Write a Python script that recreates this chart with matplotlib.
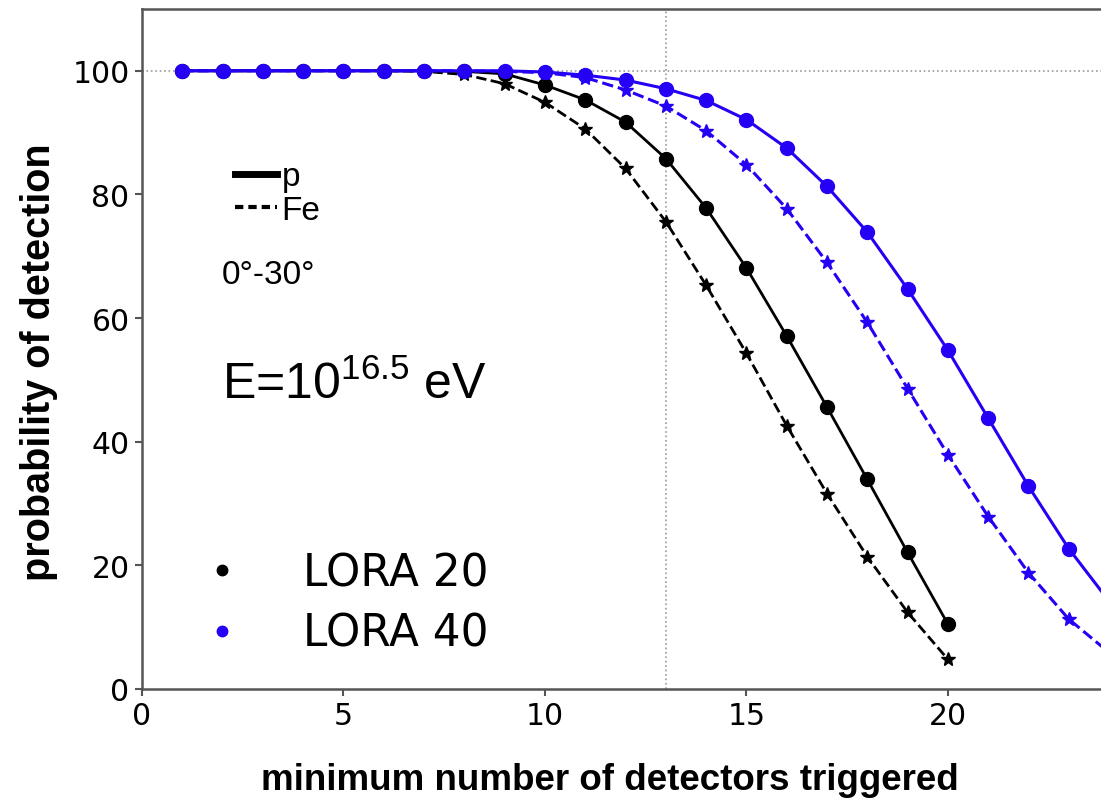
import matplotlib
matplotlib.use("Agg")
import matplotlib.pyplot as plt
from matplotlib.lines import Line2D

# ---- data ----
n_lora20 = [1, 2, 3, 4, 5, 6, 7, 8, 9, 10, 11, 12, 13, 14, 15, 16, 17, 18, 19, 20]
lora20_p = [100, 100, 100, 100, 100, 100, 100, 99.9, 99.5, 97.7, 95.3, 91.7, 85.8, 77.8,
            68.1, 57.1, 45.6, 33.9, 22.1, 10.5]
lora20_fe = [100, 100, 100, 100, 100, 100, 99.9, 99.4, 97.9, 94.9, 90.6, 84.2, 75.6, 65.3,
             54.3, 42.6, 31.6, 21.4, 12.4, 4.8]

n_lora40 = [1, 2, 3, 4, 5, 6, 7, 8, 9, 10, 11, 12, 13, 14, 15, 16, 17, 18, 19, 20, 21, 22, 23, 24]
lora40_p = [100, 100, 100, 100, 100, 100, 100, 100, 100, 99.8, 99.3, 98.5, 97.1, 95.2,
            92.1, 87.5, 81.3, 73.9, 64.7, 54.8, 43.8, 32.8, 22.7, 14.2]
lora40_fe = [100, 100, 100, 100, 100, 100, 100, 100, 99.9, 99.7, 98.9, 96.9, 94.3, 90.3,
             84.8, 77.7, 69.0, 59.3, 48.6, 37.9, 27.9, 18.8, 11.3, 5.9]

xticks = [0, 5, 10, 15, 20]
yticks = [0, 20, 40, 60, 80, 100]

BLUE = "#2400f5"
ARIAL = "Liberation Sans"

plt.rcParams["mathtext.fontset"] = "custom"
plt.rcParams["mathtext.rm"] = ARIAL
plt.rcParams["mathtext.it"] = ARIAL + ":italic"

fig = plt.figure(figsize=(11.01, 8.04), dpi=100)
ax = fig.add_axes([0.129, 0.1418, 0.871, 0.8458])

ax.axvline(13, color="#999999", lw=1.2, ls=":", zorder=1)
ax.axhline(100, color="#999999", lw=1.2, ls=":", zorder=1)

ax.plot(n_lora20, lora20_fe, color="black", ls="--", lw=2, marker="*", ms=10, zorder=3)
ax.plot(n_lora20, lora20_p, color="black", ls="-", lw=2, marker="o", ms=10, zorder=4)
ax.plot(n_lora40, lora40_fe, color=BLUE, ls="--", lw=2.2, marker="*", ms=10, zorder=5)
ax.plot(n_lora40, lora40_p, color=BLUE, ls="-", lw=2.2, marker="o", ms=10, zorder=6)

ax.set_xlim(0, 23.8)
ax.set_ylim(0, 110)
ax.set_xticks(xticks)
ax.set_yticks(yticks)
ax.tick_params(labelsize=21.5, width=1.5, length=5, color="#555555", pad=4)
ax.spines["right"].set_visible(False)
for s in ["left", "bottom", "top"]:
    ax.spines[s].set_color("#555555")
    ax.spines[s].set_linewidth(1.8)

ax.set_xlabel("minimum number of detectors triggered", fontsize=26.5, fontweight="bold",
              family=ARIAL)
ax.xaxis.set_label_coords(0.488, -0.108)
ax.set_ylabel("probability of detection", fontsize=28.5, fontweight="bold",
              family=ARIAL)
ax.yaxis.set_label_coords(-0.088, 0.482)

# composition legend
comp_handles = [Line2D([], [], color="black", lw=5, ls="-"),
                Line2D([], [], color="black", lw=3, ls=(0, (2, 1.2)))]
leg1 = ax.legend(comp_handles, ["p", "Fe"], loc="upper left", bbox_to_anchor=(0.097, 0.776),
                 frameon=False, handlelength=1.25, handletextpad=0.15, labelspacing=0.08,
                 prop={"family": ARIAL, "size": 24}, borderaxespad=0, borderpad=0)
ax.add_artist(leg1)

ax.text(0.0834, 0.610, "0°-30°", transform=ax.transAxes, fontsize=24, family=ARIAL,
        va="center", ha="left")
ax.text(0.0834, 0.448, r"E=10$^{16.5}$ eV", transform=ax.transAxes, fontsize=36, family=ARIAL,
        va="center", ha="left")

arr_handles = [Line2D([], [], color="black", marker="o", ls="none", ms=7.5),
               Line2D([], [], color=BLUE, marker="o", ls="none", ms=7.5)]
ax.legend(arr_handles, ["LORA 20", "LORA 40"], loc="lower left", bbox_to_anchor=(0.0605, 0.05),
          frameon=False, handlelength=1.0, handletextpad=1.35, labelspacing=0.4,
          borderpad=0, borderaxespad=0, prop={"size": 31.5})

fig.savefig("out.png", dpi=100)
